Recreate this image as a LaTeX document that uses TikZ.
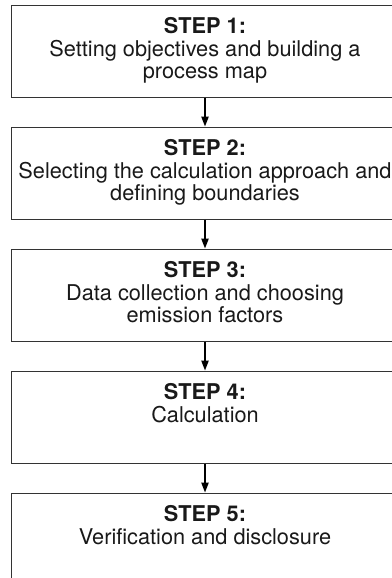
\documentclass[tikz,border=0pt]{standalone}
\usepackage{fontspec}
\setmainfont{TeX Gyre Heros}
\usetikzlibrary{positioning,arrows.meta}
\begin{document}
\begin{tikzpicture}[x=0.75pt,y=-0.75pt,>={Triangle[length=7.5pt,width=5.5pt]},
		stepbox/.style={draw=black!80,line width=0.75pt,minimum width=291pt,minimum height=69pt,inner sep=0pt},
		steptext/.style={anchor=north,align=center,inner sep=0pt,font=\fontsize{16.3}{16.9}\selectfont,text=black!90},
		link/.style={->,line width=1.1pt},node distance=21.75pt]
	\useasboundingbox (0,0) rectangle (392,578);
	\clip (0,0) rectangle (392,578);
	\node[stepbox] (b1) at (205,51) {};
	\node[stepbox,below=of b1] (b2) {};
	\node[stepbox,below=of b2] (b3) {};
	\node[stepbox,below=of b3] (b4) {};
	\node[stepbox,below=of b4] (b5) {};
	\node[steptext] (t1) at ([yshift=-9.75pt]b1.north) {\textbf{STEP 1:}\\Setting objectives and building a\\process map};
	\node[steptext] (t2) at ([yshift=-9.75pt]b2.north) {\textbf{STEP 2:}\\Selecting the calculation approach and\\defining boundaries};
	\node[steptext] (t3) at ([yshift=-9.75pt]b3.north) {\textbf{STEP 3:}\\Data collection and choosing\\emission factors};
	\node[steptext] (t4) at ([yshift=-9.75pt]b4.north) {\textbf{STEP 4:}\\Calculation};
	\node[steptext] (t5) at ([yshift=-9.75pt]b5.north) {\textbf{STEP 5:}\\Verification and disclosure};
	\foreach \a/\b in {b1/b2,b2/b3,b3/b4,b4/b5}
		\draw[link] (\a) -- (\b);
\end{tikzpicture}
\end{document}
